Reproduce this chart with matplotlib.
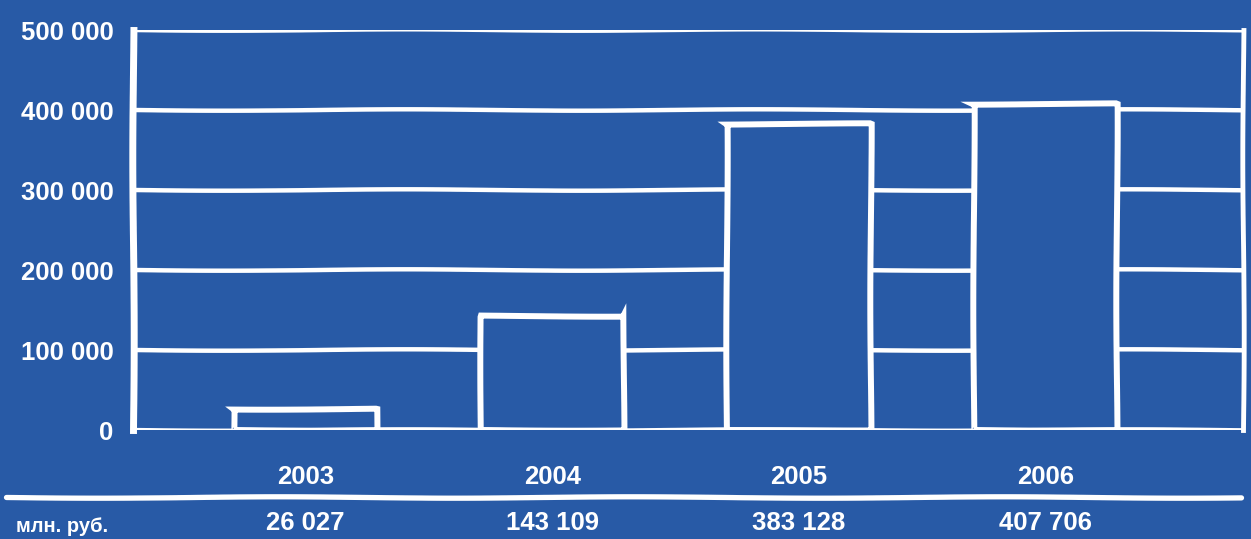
import numpy as np
import matplotlib
matplotlib.use("Agg")
import matplotlib.pyplot as plt
from matplotlib.lines import Line2D
from matplotlib import font_manager

# Data
years = ["2003", "2004", "2005", "2006"]
revenue = [26027, 143109, 383128, 407706]
value_labels = ["26 027", "143 109", "383 128", "407 706"]
y_ticks = [0, 100000, 200000, 300000, 400000, 500000]
y_tick_labels = ["0", "100 000", "200 000", "300 000", "400 000", "500 000"]
unit_label = "млн. руб."

BG = "#285AA6"
FG = "white"

installed = {f.name for f in font_manager.fontManager.ttflist}
family = "Liberation Sans" if "Liberation Sans" in installed else "DejaVu Sans"
plt.rcParams["font.family"] = [family, "DejaVu Sans"]
plt.rcParams["font.weight"] = "bold"

SKETCH = dict(scale=0.7, length=400, randomness=2)

fig = plt.figure(figsize=(12.51, 5.39), dpi=100, facecolor=BG)
ax = fig.add_axes([0.1063, 0.2022, 0.8873, 0.742])
ax.set_facecolor(BG)

x = np.arange(len(years))
ax.set_xlim(-0.70, 3.80)
ax.set_ylim(0, 500000)

# hand-drawn looking grid lines
for yv in y_ticks[1:]:
    ln = ax.axhline(yv, color=FG, lw=3.2, zorder=1, solid_capstyle="round")
    ln.set_sketch_params(**SKETCH)

bars = ax.bar(x, revenue, width=0.58, facecolor=BG, edgecolor=FG,
              linewidth=4.3, zorder=2, joinstyle="miter")
for b in bars:
    b.set_sketch_params(**SKETCH)

# frame
for side in ["top", "bottom"]:
    ax.spines[side].set_visible(False)
ax.spines["left"].set_color(FG)
ax.spines["left"].set_linewidth(5)
ax.spines["right"].set_color(FG)
ax.spines["right"].set_linewidth(3.5)
ax.spines["left"].set_sketch_params(**SKETCH)
ax.spines["right"].set_sketch_params(**SKETCH)
base = ax.axhline(0, color=FG, lw=3.8, zorder=3)
base.set_sketch_params(**SKETCH)

ax.set_yticks(y_ticks)
ax.set_yticklabels(y_tick_labels)
ax.tick_params(axis="y", length=0, pad=14, labelsize=18.5, labelcolor=FG)
ax.set_xticks(x)
ax.set_xticklabels(years)
ax.tick_params(axis="x", length=0, pad=25, labelsize=18.5, labelcolor=FG)
for lab in ax.get_yticklabels() + ax.get_xticklabels():
    lab.set_fontweight("bold")

# separator line under the years
sep = Line2D([0.005, 0.992], [0.078, 0.078], transform=fig.transFigure,
             color=FG, lw=3.8, solid_capstyle="round")
sep.set_sketch_params(**SKETCH)
fig.add_artist(sep)

# value row
trans = matplotlib.transforms.blended_transform_factory(ax.transData, fig.transFigure)
for xi, lbl in zip(x, value_labels):
    ax.text(xi, 0.030, lbl, transform=trans, ha="center", va="center",
            fontsize=18.5, fontweight="bold", color=FG)
fig.text(0.013, 0.024, unit_label, ha="left", va="center",
         fontsize=14.5, fontweight="bold", color=FG)

fig.savefig("out.png", dpi=100, facecolor=BG)
